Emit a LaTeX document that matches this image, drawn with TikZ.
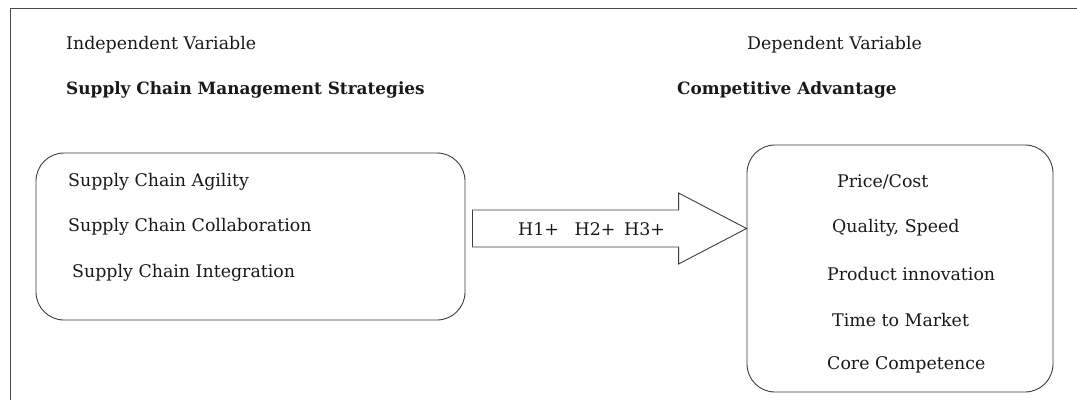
\documentclass[tikz,border=0pt]{standalone}
\usepackage{fontspec}
\setmainfont{DejaVu Serif}
\usetikzlibrary{positioning, calc}
\definecolor{frameline}{HTML}{4A4A4A}
\definecolor{boxline}{HTML}{3C3C3C}

\begin{document}
\begin{tikzpicture}[
    x=1pt, y=-1pt,
    label/.style={anchor=west, inner sep=0pt, font=\fontsize{17.4}{20}\selectfont, text=black!90},
    heading/.style={label, font=\fontsize{16.9}{20}\selectfont\bfseries},
    factorbox/.style={
      rectangle, rounded corners=28pt, draw=boxline, line width=0.9pt
    },
    hyparrow/.style={draw=boxline, line width=0.9pt, fill=white},
  ]
  \useasboundingbox (0,0) rectangle (1077,400);
  \draw[frameline, line width=1pt] (1077,8) -- (10,8) -- (10,400);

  \node[label] (ivtitle) at (66,45) {Independent Variable};
  \node[heading] (ivname) at (66,90) {Supply Chain Management Strategies};
  \node[label] (dvtitle) at (747,45) {Dependent Variable};
  \node[heading] (dvname) at (677,90) {Competitive Advantage};

  \node[factorbox, minimum width=429pt, minimum height=167pt] (ivbox) at (250.5,236.5) {};
  \node[factorbox, minimum width=306pt, minimum height=247pt] (dvbox) at (900,268.5) {};

  \node[label] (agility) at (68,182) {Supply Chain Agility};
  \node[label] (collab) at (68,227) {Supply Chain Collaboration};
  \node[label] (integr) at (72,273) {Supply Chain Integration};

  \node[label] (price) at (837,182) {Price/Cost};
  \node[label] (quality) at (832,228) {Quality, Speed};
  \node[label] (innov) at (827,274) {Product innovation};
  \node[label] (market) at (832,320) {Time to Market};
  \node[label] (core) at (827,365) {Core Competence};

  \coordinate (tail) at ($(ivbox.east)+(7,-8)$);
  \coordinate (tip) at (dvbox.west |- tail);
  \draw[hyparrow] ($(tail)+(0,-18.5)$) -- ($(tip)+(-68,-18.5)$)
    -- ($(tip)+(-68,-35.5)$) -- (tip) -- ($(tip)+(-68,35.5)$)
    -- ($(tip)+(-68,18.5)$) -- ($(tail)+(0,18.5)$) -- cycle;
  \node[label] (hyp) at (518,229) {H1+\hspace{0.9em}H2+\hspace{0.5em}H3+};
\end{tikzpicture}
\end{document}
